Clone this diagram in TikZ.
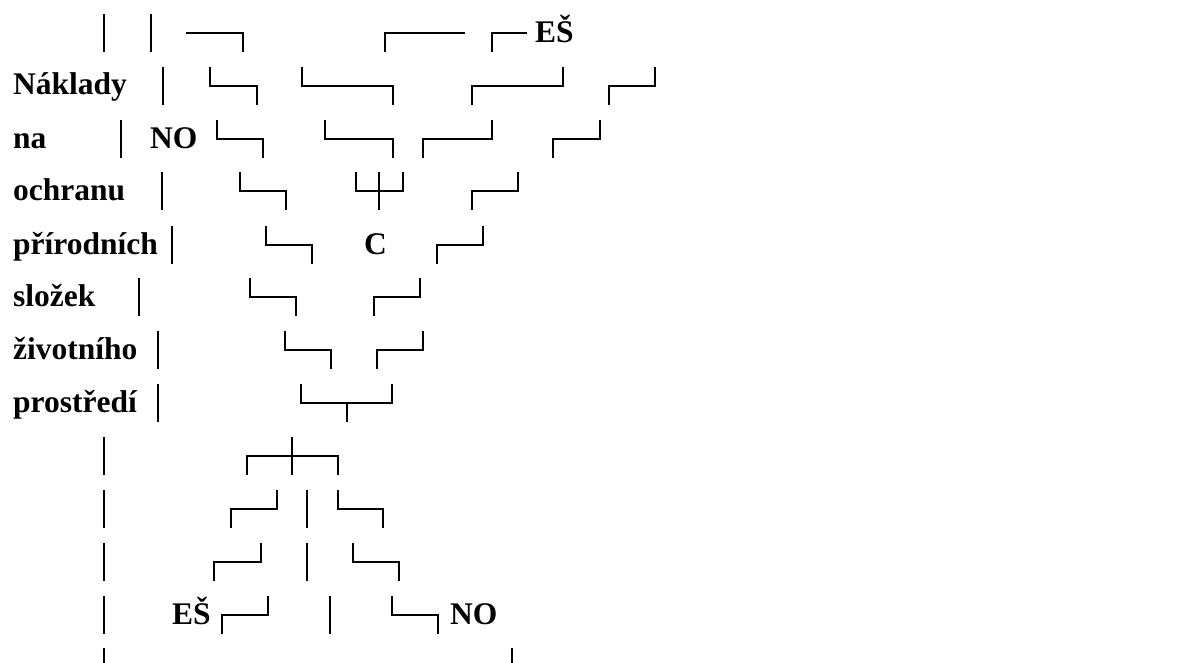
\documentclass[tikz,border=0pt]{standalone}
\usepackage{fontspec}
\setmainfont{Liberation Serif}
\tikzset{
  ln/.style={line width=2.8pt, line cap=butt, line join=miter},
  lbl/.style={inner sep=0pt, anchor=base west, font=\fontsize{31.5}{36}\selectfont\bfseries}
}
% t = top of a text row; rows are 38 units tall, middle at t+19
\newcommand\zigdn[3]{\draw[ln] (#1,#3) -- (#1,#3+19) -- (#2,#3+19) -- (#2,#3+38);}
\newcommand\zigup[3]{\draw[ln] (#1,#3+38) -- (#1,#3+19) -- (#2,#3+19) -- (#2,#3);}
\newcommand\vbar[2]{\draw[ln] (#1,#2) -- (#1,#2+38);}
\begin{document}
\begin{tikzpicture}[x=1pt,y=-1pt]
\useasboundingbox (0,0) rectangle (1195,662);
\clip (0,0) rectangle (1195,662);
% row 1
\vbar{104}{14} \vbar{151}{14}
\draw[ln] (186,33) -- (243,33) -- (243,52);
\draw[ln] (385,52) -- (385,33) -- (465,33);
\draw[ln] (492,52) -- (492,33) -- (527,33);
\node[lbl] (es1) at (535,42) {EŠ};
% row 2
\node[lbl] (t1) at (13,94) {Náklady};
\vbar{163}{67}
\zigdn{210}{257}{67} \zigdn{302}{393}{67}
\zigup{472}{563}{67} \zigup{609}{655}{67}
% row 3
\node[lbl] (t2) at (13,148) {na};
\vbar{121}{120}
\node[lbl] (no1) at (150,148) {NO};
\zigdn{217}{263}{120} \zigdn{325}{393}{120}
\zigup{423}{492}{120} \zigup{553}{600}{120}
% row 4
\node[lbl] (t3) at (13,200) {ochranu};
\vbar{162}{172}
\zigdn{240}{286}{172}
\draw[ln] (356,172) -- (356,191) -- (403,191) -- (403,172);
\vbar{379}{172}
\zigup{472}{518}{172}
% row 5
\node[lbl] (t4) at (13,254) {přírodních};
\vbar{172}{226}
\zigdn{266}{312}{226}
\node[lbl] (c) at (364,254) {C};
\zigup{437}{483}{226}
% row 6
\node[lbl] (t5) at (13,306) {složek};
\vbar{139}{278}
\zigdn{250}{296}{278}
\zigup{374}{420}{278}
% row 7
\node[lbl] (t6) at (13,359) {životního};
\vbar{158}{331}
\zigdn{285}{331}{331}
\zigup{377}{423}{331}
% row 8
\node[lbl] (t7) at (13,412) {prostředí};
\vbar{158}{384}
\draw[ln] (301,384) -- (301,403) -- (392,403) -- (392,384);
\draw[ln] (347,403) -- (347,422);
% row 9
\vbar{104}{437}
\draw[ln] (247,475) -- (247,456) -- (338,456) -- (338,475);
\vbar{292}{437}
% row 10
\vbar{104}{490}
\zigup{231}{277}{490}
\vbar{307}{490}
\zigdn{338}{383}{490}
% row 11
\vbar{104}{543}
\zigup{214}{261}{543}
\vbar{307}{543}
\zigdn{353}{399}{543}
% row 12
\vbar{104}{596}
\node[lbl] (es2) at (172,624) {EŠ};
\zigup{222}{268}{596}
\vbar{330}{596}
\zigdn{392}{438}{596}
\node[lbl] (no2) at (450,624) {NO};
% row 13
\vbar{104}{648} \vbar{512}{648}
\end{tikzpicture}
\end{document}
